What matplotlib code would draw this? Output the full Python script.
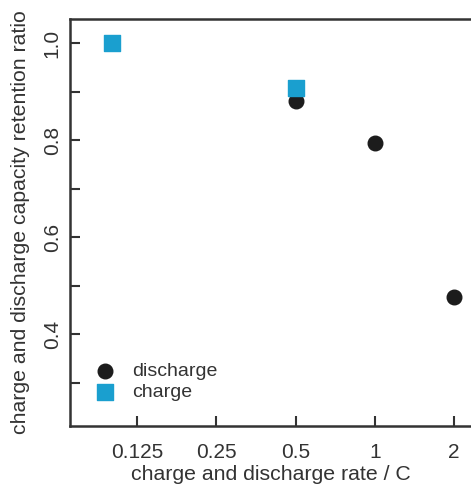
import matplotlib.pyplot as plt
from matplotlib.ticker import FixedLocator, NullFormatter

plt.rcParams['font.family'] = ['Liberation Sans', 'DejaVu Sans']

# rate capability: retention ratio vs C-rate
discharge_rate = [0.5, 1, 2]
discharge_ratio = [0.880, 0.795, 0.477]
charge_rate = [0.1, 0.5]
charge_ratio = [1.0, 0.907]

xticks = [0.125, 0.25, 0.5, 1, 2]
xtick_labels = ['0.125', '0.25', '0.5', '1', '2']
yticks = [0.4, 0.6, 0.8, 1.0]
ytick_labels = ['0.4', '0.6', '0.8', '1.0']
yminor = [0.3, 0.5, 0.7, 0.9]

fig = plt.figure(figsize=(4.71, 4.86), dpi=100)
ax = fig.add_axes([70 / 471, 60 / 486, 401 / 471, 407 / 486])

ax.scatter(discharge_rate, discharge_ratio, s=110, marker='o', color='#1c1c1c',
           label='discharge', zorder=3)
ax.scatter(charge_rate, charge_ratio, s=120, marker='s', color='#1a9fcf',
           label='charge', zorder=3)

ax.set_xscale('log', base=2)
ax.set_xlim(0.0694, 2.32)
ax.set_ylim(0.211, 1.05)

ax.xaxis.set_major_locator(FixedLocator(xticks))
ax.xaxis.set_minor_locator(FixedLocator([]))
ax.set_xticklabels(xtick_labels, fontsize=15)
ax.yaxis.set_major_locator(FixedLocator(yticks))
ax.yaxis.set_minor_locator(FixedLocator(yminor))
ax.yaxis.set_minor_formatter(NullFormatter())
ax.set_yticklabels(ytick_labels, fontsize=15, rotation=90, va='center')

ax.tick_params(which='both', direction='in', length=7, width=1.5, color='#333333',
               labelcolor='#333333')
ax.tick_params(axis='x', pad=12)
ax.tick_params(axis='y', pad=6)

for side in ['left', 'bottom', 'top']:
    ax.spines[side].set_linewidth(1.8)
    ax.spines[side].set_color('#333333')
ax.spines['right'].set_visible(False)

ax.set_xlabel('charge and discharge rate / C', fontsize=15.3, color='#333333',
              labelpad=2.5)
ax.set_ylabel('charge and discharge capacity retention ratio', fontsize=15.3,
              color='#333333', labelpad=9)

ax.legend(loc='lower left', bbox_to_anchor=(-0.005, 0.018), frameon=False,
          prop={'size': 14}, handletextpad=0.4, labelspacing=0.2,
          labelcolor='#333333')

fig.savefig('out.png', dpi=100)
